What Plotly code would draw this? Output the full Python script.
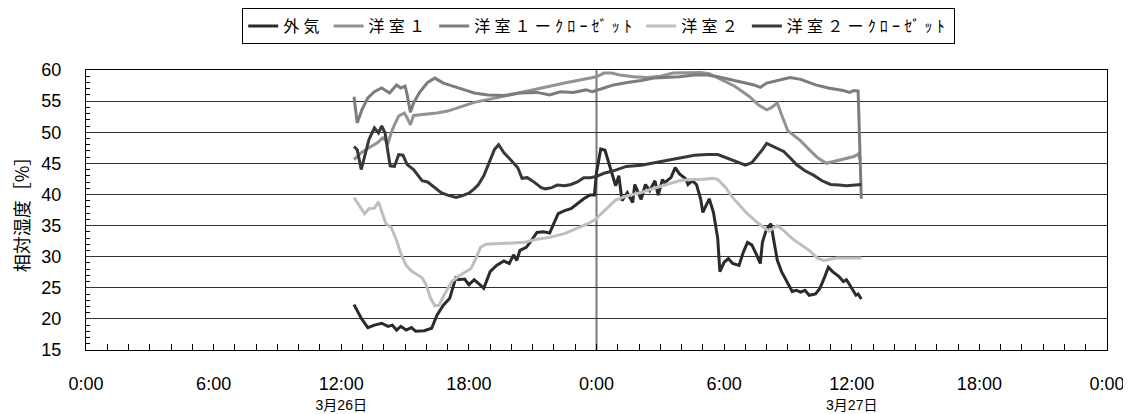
import plotly.graph_objects as go

# ---- data (hours since 3/26 0:00, relative humidity %) ----
OUT_T = [12.6, 12.94, 13.25, 13.56, 13.9, 14.2, 14.4, 14.6, 14.8, 15.05,
         15.3, 15.5, 15.9, 16.25, 16.5, 16.8, 17.1, 17.2, 17.4, 17.5,
         17.8, 18.0, 18.25, 18.55, 18.7, 19.0, 19.3, 19.65, 19.9, 20.1,
         20.25, 20.4, 20.7, 20.9, 21.2, 21.5, 21.8, 22.0, 22.2, 22.5,
         22.8, 23.1, 23.4, 23.7, 23.9, 24.0, 24.2, 24.4, 24.7, 24.9,
         25.05, 25.2, 25.45, 25.7, 25.8, 26.1, 26.3, 26.5, 26.75, 26.9,
         27.1, 27.2, 27.5, 27.7, 27.9, 28.2, 28.3, 28.5, 28.7, 28.9,
         29.0, 29.3, 29.5, 29.7, 29.8, 30.0, 30.2, 30.4, 30.7, 30.9,
         31.1, 31.3, 31.5, 31.7, 31.8, 32.0, 32.2, 32.3, 32.5, 32.7,
         33.0, 33.2, 33.4, 33.6, 33.8, 34.0, 34.3, 34.5, 34.7, 34.9,
         35.1, 35.4, 35.6, 35.75, 35.9, 36.1, 36.2, 36.3, 36.45]
OUT_V = [22.3, 20.1, 18.6, 19.0, 19.3, 18.8, 19.0, 18.2, 18.8, 18.2,
         18.6, 18.0, 18.1, 18.5, 20.6, 22.2, 23.3, 24.4, 26.8, 26.3,
         26.4, 25.5, 26.3, 25.4, 24.9, 27.6, 28.6, 29.3, 28.9, 30.3,
         29.4, 31.0, 31.5, 32.4, 33.9, 34.0, 33.8, 35.4, 36.9, 37.4,
         37.7, 38.5, 39.3, 39.9, 39.9, 43.5, 47.3, 47.1, 43.5, 41.4,
         43.0, 39.0, 40.3, 38.7, 41.6, 39.2, 41.6, 40.6, 42.2, 39.9,
         42.4, 41.9, 42.7, 44.3, 43.3, 42.5, 41.6, 42.2, 41.6, 39.2,
         37.1, 39.3, 37.1, 32.9, 27.6, 29.1, 29.7, 28.9, 28.6, 30.7,
         32.3, 31.9, 30.5, 28.9, 32.3, 34.5, 35.3, 33.4, 29.4, 27.6,
         25.7, 24.4, 24.6, 24.3, 24.6, 23.8, 24.0, 24.9, 26.5, 28.3,
         27.6, 26.8, 26.0, 26.3, 25.5, 24.4, 23.8, 24.0, 23.2]

R1_T = [12.6, 12.94, 13.3, 13.7, 13.95, 14.2, 14.35, 14.5, 14.7, 14.97,
        15.1, 15.25, 15.4, 15.75, 16.06, 16.5, 17.0, 17.5, 17.9, 18.25,
        18.7, 19.3, 19.95, 20.6, 21.2, 21.8, 22.5, 23.1, 23.7, 24.0,
        24.35, 24.7, 25.1, 25.75, 26.4, 27.0, 27.6, 28.25, 28.9, 29.3,
        29.7, 30.1, 30.5, 30.75, 31.2, 31.6, 32.0, 32.2, 32.5, 32.7,
        33.0, 33.2, 33.6, 34.0, 34.4, 34.8, 35.3, 35.75, 36.1, 36.3,
        36.4]
R1_V = [45.6, 46.7, 47.5, 48.3, 49.1, 48.3, 49.9, 51.2, 52.6, 53.1,
        52.3, 51.2, 52.7, 52.8, 53.0, 53.1, 53.4, 53.9, 54.4, 54.8,
        55.1, 55.6, 56.0, 56.5, 56.9, 57.4, 57.9, 58.3, 58.7, 58.9,
        59.5, 59.5, 59.2, 58.9, 58.8, 59.0, 59.5, 59.6, 59.6, 59.4,
        58.7, 58.1, 57.4, 56.8, 55.7, 54.4, 53.6, 53.9, 54.7, 52.8,
        50.2, 49.7, 48.6, 47.2, 45.9, 45.0, 45.4, 45.8, 46.1, 46.5,
        45.6]

C1_T = [12.6, 12.75, 12.97, 13.25, 13.56, 13.9, 14.27, 14.6, 14.8, 15.0,
        15.1, 15.25, 15.4, 15.7, 16.06, 16.4, 16.8, 17.3, 17.8, 18.25,
        18.9, 19.65, 20.4, 21.2, 21.8, 22.3, 22.9, 23.5, 23.8, 24.35,
        24.8, 25.45, 26.1, 26.7, 27.3, 27.9, 28.6, 29.2, 29.7, 30.3,
        30.9, 31.4, 31.7, 32.0, 32.6, 33.1, 33.6, 34.3, 34.9, 35.6,
        35.9, 36.1, 36.3, 36.45]
C1_V = [55.7, 51.5, 53.6, 55.5, 56.5, 57.1, 56.3, 57.6, 57.1, 57.4,
        56.0, 53.2, 54.7, 56.5, 58.0, 58.7, 57.9, 57.3, 56.8, 56.3,
        56.0, 55.9, 56.3, 56.4, 56.0, 56.5, 56.4, 56.8, 56.5, 57.1,
        57.6, 58.0, 58.3, 58.7, 58.8, 58.9, 59.2, 59.2, 58.9, 58.5,
        58.0, 57.6, 57.2, 57.9, 58.4, 58.8, 58.5, 57.6, 57.1, 56.7,
        56.4, 56.7, 56.6, 39.3]

R2_T = [12.6, 12.86, 13.1, 13.3, 13.56, 13.75, 13.9, 14.1, 14.35, 14.6,
        14.8, 15.05, 15.3, 15.6, 15.8, 16.0, 16.2, 16.4, 16.6, 16.8,
        17.0, 17.2, 17.5, 17.9, 18.1, 18.3, 18.55, 18.8, 19.3, 19.95,
        20.6, 21.2, 21.8, 22.5, 23.1, 23.6, 23.95, 24.3, 24.5, 24.9,
        25.45, 26.1, 26.7, 27.3, 27.9, 28.4, 28.9, 29.5, 29.7, 30.05,
        30.4, 30.75, 31.0, 31.45, 31.8, 32.1, 32.5, 32.8, 33.2, 33.6,
        34.0, 34.4, 34.7, 35.3, 36.45]
R2_V = [39.5, 38.2, 36.9, 37.7, 37.8, 38.8, 37.4, 35.3, 34.7, 32.6,
        30.5, 28.6, 27.7, 27.0, 26.6, 25.4, 23.3, 22.1, 22.2, 23.6,
        24.9, 26.0, 26.8, 27.6, 28.1, 29.5, 31.5, 32.0, 32.1, 32.2,
        32.3, 32.8, 33.1, 33.7, 34.6, 35.3, 36.0, 37.1, 37.8, 39.1,
        39.8, 40.3, 41.0, 41.6, 42.2, 42.4, 42.4, 42.6, 42.4, 41.2,
        39.5, 38.2, 37.2, 35.8, 34.8, 34.1, 35.0, 34.2, 32.9, 31.9,
        31.0, 29.7, 29.4, 29.8, 29.8]

C2_T = [12.6, 12.75, 12.94, 13.1, 13.3, 13.56, 13.75, 13.9, 14.06, 14.2,
        14.3, 14.5, 14.7, 14.9, 15.1, 15.4, 15.6, 15.8, 16.06, 16.4,
        16.7, 17.0, 17.4, 17.7, 18.0, 18.25, 18.45, 18.7, 18.95, 19.2,
        19.4, 19.65, 19.95, 20.3, 20.5, 20.75, 21.1, 21.4, 21.6, 21.9,
        22.15, 22.5, 22.8, 23.1, 23.4, 23.7, 24.0, 24.35, 24.8, 25.4,
        26.1, 26.7, 27.3, 27.9, 28.6, 29.2, 29.7, 30.1, 30.6, 31.0,
        31.3, 31.5, 31.8, 32.0, 32.3, 32.8, 33.1, 33.4, 33.8, 34.2,
        34.6, 35.0, 35.4, 35.75, 36.45]
C2_V = [47.7, 47.2, 44.0, 46.2, 48.8, 50.7, 49.9, 51.0, 49.9, 46.7,
        44.6, 44.5, 46.4, 46.3, 44.8, 44.0, 43.0, 42.2, 42.0, 41.1,
        40.3, 39.9, 39.5, 39.8, 40.2, 40.9, 41.6, 43.0, 45.1, 47.2,
        48.0, 46.7, 45.6, 44.3, 42.6, 42.7, 41.9, 41.1, 40.9, 41.1,
        41.5, 41.4, 41.6, 42.0, 42.7, 42.7, 42.9, 43.4, 43.8, 44.5,
        44.7, 45.1, 45.4, 45.9, 46.3, 46.4, 46.4, 45.9, 45.2, 44.7,
        45.1, 45.9, 47.2, 48.2, 47.7, 46.9, 45.9, 44.8, 43.8, 43.1,
        42.2, 41.6, 41.5, 41.4, 41.6]

SERIES_NAMES = ["外気", "洋室１", "洋室１ーｸﾛｰｾﾞｯﾄ", "洋室２", "洋室２ーｸﾛｰｾﾞｯﾄ"]
SERIES_T = [OUT_T, R1_T, C1_T, R2_T, C2_T]
SERIES_V = [OUT_V, R1_V, C1_V, R2_V, C2_V]
COLORS = ["#2b2b2b", "#929292", "#7c7c7c", "#bfbfbf", "#383838"]

DATE_STYLE = "font-size:14px;baseline-shift:3px"
TICK_HOURS = [0, 6, 12, 18, 24, 30, 36, 42, 48]
TICK_TEXT = ["0:00", "6:00", f"12:00<br><span style='{DATE_STYLE}'>3月26日</span>",
             "18:00", "0:00", "6:00",
             f"12:00<br><span style='{DATE_STYLE}'>3月27日</span>", "18:00", "0:00"]
DAY_BOUNDARY = 24
LEGEND_STYLE = "letter-spacing:4.2px"

for t, v in zip(SERIES_T, SERIES_V):
    assert len(t) == len(v)

fig = go.Figure()
for name, t, v, c in zip(SERIES_NAMES, SERIES_T, SERIES_V, COLORS):
    fig.add_trace(go.Scatter(x=t, y=v, name=f"<span style='{LEGEND_STYLE}'>{name}</span>",
                             mode="lines", line=dict(color=c, width=3)))

fig.add_vline(x=DAY_BOUNDARY, line=dict(color="#7a7a7a", width=2), layer="below")

# page body has an 8px margin, so the figure is 8px smaller than the window
fig.update_layout(
    width=1123, height=406,
    margin=dict(l=78, r=24, t=62, b=64, autoexpand=False),
    paper_bgcolor="white", plot_bgcolor="white",
    font=dict(family="Liberation Sans, Noto Sans CJK JP", size=18, color="black"),
    showlegend=True,
    legend=dict(orientation="h", x=0.526, xref="container", xanchor="center",
                y=1.0, yref="container", yanchor="top",
                bordercolor="black", borderwidth=1, bgcolor="white",
                font=dict(family="Noto Sans CJK JP", size=16),
                itemwidth=30, tracegroupgap=0),
)
fig.update_xaxes(
    range=[0, 48], tickmode="array", tickvals=TICK_HOURS, ticktext=TICK_TEXT,
    ticks="inside", ticklen=6, tickcolor="black",
    minor=dict(dtick=1, tick0=0, ticks="inside", ticklen=6, tickcolor="black"),
    showgrid=False, zeroline=False,
    showline=True, linecolor="black", linewidth=1, mirror=True,
    ticklabelstandoff=17,
    tickfont=dict(family="Liberation Sans, Noto Sans CJK JP", size=18),
)
fig.update_yaxes(
    range=[15, 60], dtick=5, tick0=15,
    ticks="", showgrid=True, gridcolor="#333333", gridwidth=1,
    minor=dict(dtick=1, ticks="inside", ticklen=4, tickcolor="black", showgrid=False),
    zeroline=False, showline=True, linecolor="black", linewidth=1, mirror=True,
    ticklabelstandoff=20,
    tickfont=dict(family="Liberation Sans", size=18),
    title=dict(text="相対湿度［%］", font=dict(family="Noto Sans CJK JP", size=18), standoff=8),
)

fig.write_html("out.html")
